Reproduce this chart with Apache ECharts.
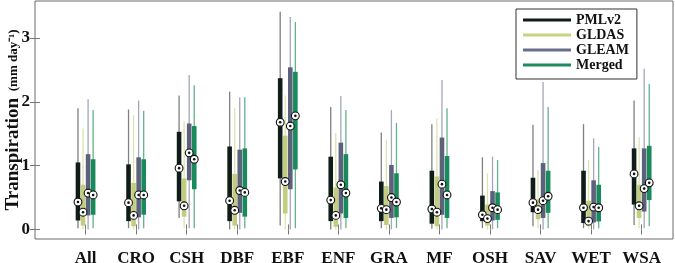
<!DOCTYPE html>
<html>
<head>
<meta charset="utf-8">
<script src="https://cdn.jsdelivr.net/npm/echarts@6/dist/echarts.min.js"></script>
<style>html,body{margin:0;padding:0;background:#fff}#c{width:675px;height:263px}</style>
</head>
<body>
<div id="c"></div>
<script>
// Categories (land cover types)
var categories = ['All','CRO','CSH','DBF','EBF','ENF','GRA','MF','OSH','SAV','WET','WSA'];
var seriesNames = ['PMLv2','GLDAS','GLEAM','Merged'];
var yTicks = [0,1,2,3];
// each row: [whiskerLow, q1, median, q3, whiskerHigh] per category
var pmlv2 = [
  [0.02,0.14,0.43,1.05,1.90],[0.02,0.13,0.42,1.02,1.88],[0.18,0.44,0.96,1.53,2.10],[0.00,0.13,0.45,1.30,2.16],
  [0.06,0.80,1.68,2.37,3.41],[0.00,0.13,0.46,1.14,1.92],[0.02,0.13,0.33,0.75,1.52],[0.01,0.09,0.32,0.92,1.65],
  [0.02,0.13,0.23,0.53,1.13],[0.05,0.27,0.42,0.81,1.64],[0.02,0.10,0.34,0.92,1.65],[0.07,0.39,0.87,1.27,2.02]
];
var gldas = [
  [0.00,0.06,0.27,0.70,1.58],[0.00,0.05,0.22,0.73,1.79],[0.02,0.20,0.37,0.80,1.69],[0.00,0.06,0.30,0.87,1.90],
  [0.00,0.25,0.75,1.47,2.10],[0.00,0.04,0.22,0.66,1.51],[0.00,0.07,0.31,0.68,1.41],[0.00,0.05,0.27,0.83,1.74],
  [0.00,0.06,0.17,0.39,0.88],[0.02,0.16,0.31,0.47,0.93],[0.00,0.05,0.13,0.45,1.09],[0.02,0.18,0.37,0.70,1.45]
];
var gleam = [
  [0.00,0.22,0.57,1.18,2.04],[0.00,0.19,0.54,1.13,2.02],[0.02,0.77,1.20,1.66,2.42],[0.00,0.26,0.61,1.25,2.07],
  [0.00,0.63,1.62,2.54,3.33],[0.00,0.25,0.70,1.36,2.09],[0.00,0.18,0.50,1.01,1.87],[0.00,0.23,0.71,1.44,2.34],
  [0.00,0.14,0.34,0.60,1.14],[0.00,0.18,0.45,1.04,2.31],[0.00,0.11,0.35,0.77,1.43],[0.02,0.28,0.64,1.27,2.52]
];
var merged = [
  [0.02,0.23,0.54,1.10,1.87],[0.02,0.23,0.54,1.10,1.86],[0.02,0.63,1.10,1.62,2.26],[0.02,0.20,0.58,1.27,2.07],
  [0.02,0.94,1.78,2.47,3.25],[0.02,0.18,0.57,1.18,1.87],[0.02,0.19,0.43,0.88,1.67],[0.02,0.18,0.54,1.15,1.90],
  [0.02,0.15,0.31,0.58,1.09],[0.02,0.26,0.52,0.92,1.92],[0.02,0.125,0.34,0.70,1.29],[0.05,0.46,0.73,1.31,2.28]
];
var allData = [pmlv2, gldas, gleam, merged];
var boxColors = ['#0f1c17','#c3cd80','#5d627b','#188a5c'];
var whiskerColors = ['#7d807f','#dde3ae','#a3a7b7','#62b28d'];
var legendColors = ['#0f1c17','#c8d27f','#6a6e86','#1e8a5e'];
var offsets = [-0.15,-0.05,0.05,0.15];

function makeData(arr){
  return arr.map(function(r,i){ return [i+1, r[0], r[1], r[2], r[3], r[4]]; });
}

var series = [];
allData.forEach(function(arr, s){
  series.push({
    name: seriesNames[s],
    type: 'custom',
    color: legendColors[s],
    itemStyle: {color: legendColors[s]},
    z: 2,
    data: makeData(arr),
    encode: {x: 0, y: [1,2,3,4,5]},
    renderItem: function(params, api){
      var x = api.value(0) + offsets[s];
      var lo = api.coord([x, api.value(1)]);
      var q1 = api.coord([x, api.value(2)]);
      var q3 = api.coord([x, api.value(4)]);
      var hi = api.coord([x, api.value(5)]);
      var w = 4.6;
      return {type:'group', children:[
        {type:'line', shape:{x1:lo[0], y1:lo[1], x2:hi[0], y2:hi[1]}, style:{stroke: whiskerColors[s], lineWidth:1.3}},
        {type:'rect', shape:{x: q3[0]-w/2, y: q3[1], width: w, height: q1[1]-q3[1]}, style:{fill: boxColors[s]}}
      ]};
    }
  });
});
// median markers
allData.forEach(function(arr, s){
  series.push({
    name: seriesNames[s] + ' median',
    type: 'custom',
    z: 5,
    data: makeData(arr),
    encode: {x: 0, y: 3},
    renderItem: function(params, api){
      var x = api.value(0) + offsets[s];
      var m = api.coord([x, api.value(3)]);
      return {type:'group', children:[
        {type:'circle', shape:{cx:m[0], cy:m[1], r:3.9}, style:{fill:'#fff', stroke:'#111', lineWidth:1.1}},
        {type:'circle', shape:{cx:m[0], cy:m[1], r:1.3}, style:{fill:'#111'}}
      ]};
    }
  });
});

var catTicks = categories.map(function(c,i){ return i+1; });
var serif = '"Liberation Serif","Times New Roman",serif';

var chart = echarts.init(document.getElementById('c'), null, {renderer:'canvas'});
chart.setOption({
  animation: false,
  grid: {left: 35, right: 2, top: 1, bottom: 24, outerBoundsMode: 'none', containLabel: false,
    show: true, borderColor: '#6a6a6a', borderWidth: 1, backgroundColor: 'transparent'},
  legend: {
    data: seriesNames,
    orient: 'vertical',
    left: 516, top: 9,
    padding: [4, 8, 7, 7],
    itemGap: 1,
    itemWidth: 48, itemHeight: 3,
    icon: 'rect',
    borderColor: '#333', borderWidth: 1,
    backgroundColor: '#fff',
    textStyle: {fontFamily: serif, fontWeight: 'bold', fontSize: 14, color: '#111', lineHeight: 14}
  },
  xAxis: [{
    type: 'value', min: 0, max: 12.62,
    axisLine: {show: false},
    splitLine: {show: false},
    axisTick: {show: true, inside: true, length: 5, lineStyle: {color: '#777'}, customValues: catTicks},
    axisLabel: {show: true, customValues: catTicks, margin: 11, fontFamily: serif, fontWeight: 'bold', fontSize: 17, color: '#111',
      formatter: function(v){ return categories[Math.round(v)-1] || ''; }}
  },{
    type: 'value', min: 0, max: 12.62, position: 'top',
    axisLine: {show: false}, splitLine: {show: false}, axisLabel: {show: false},
    axisTick: {show: true, inside: true, length: 5, lineStyle: {color: '#777'}, customValues: catTicks}
  }],
  yAxis: [{
    type: 'value', min: -0.15, max: 3.58,
    axisLine: {show: false}, splitLine: {show: false},
    axisTick: {show: true, inside: true, length: 5, lineStyle: {color: '#777'}, customValues: yTicks},
    axisLabel: {show: true, customValues: yTicks, margin: 5, fontFamily: serif, fontWeight: 'bold', fontSize: 17, color: '#111'},
    name: '{a|Transpiration}  {b|(mm day⁻¹)}',
    nameLocation: 'middle',
    nameGap: 12,
    nameMoveOverlap: false,
    nameRotate: 90,
    nameTextStyle: {rich: {
      a: {fontFamily: serif, fontWeight: 'bold', fontSize: 19, color: '#111'},
      b: {fontFamily: serif, fontWeight: 'bold', fontSize: 13, color: '#111'}
    }}
  },{
    type: 'value', min: -0.15, max: 3.58, position: 'right',
    axisLine: {show: false}, splitLine: {show: false}, axisLabel: {show: false},
    axisTick: {show: true, inside: true, length: 5, lineStyle: {color: '#777'}, customValues: yTicks}
  }],
  series: series
});
</script>
</body>
</html>
